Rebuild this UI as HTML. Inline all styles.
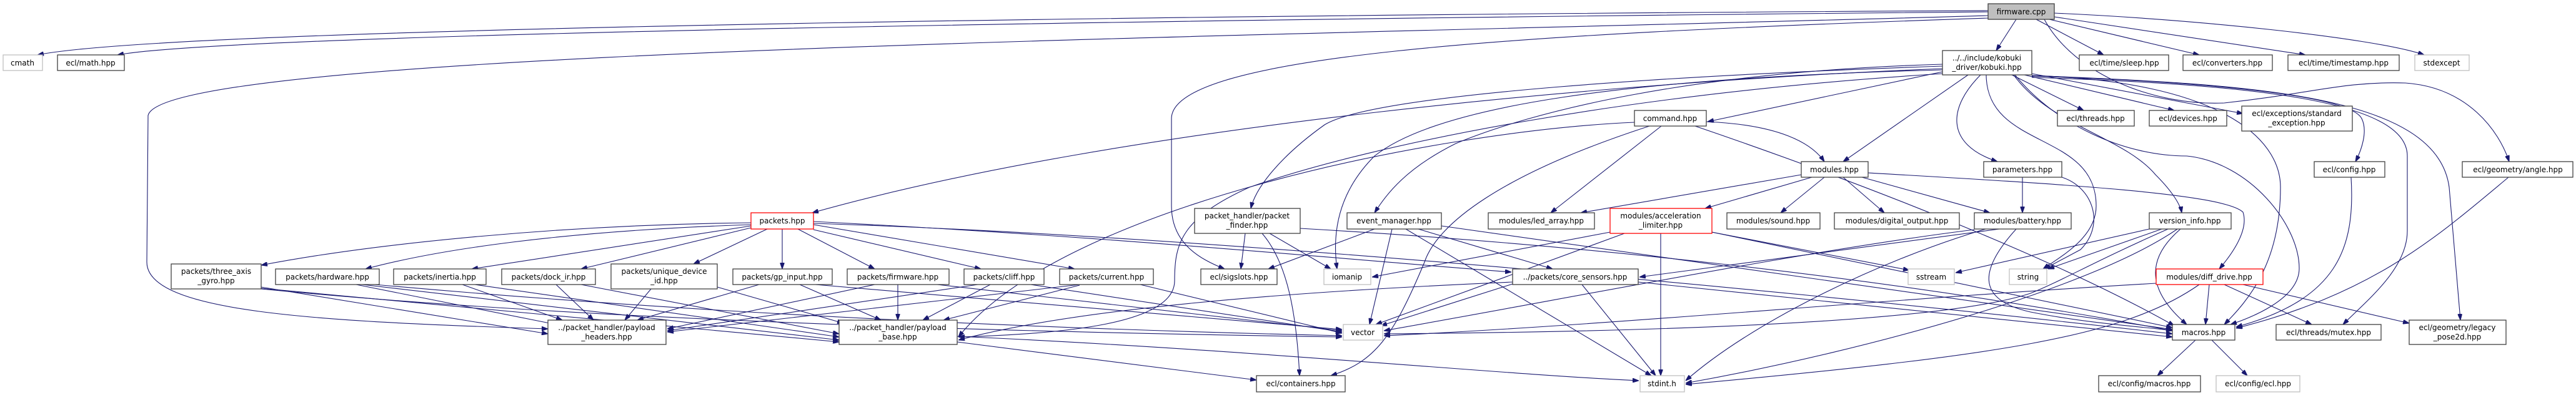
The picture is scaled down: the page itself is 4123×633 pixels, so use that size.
<!DOCTYPE html>
<html><head><meta charset="utf-8"><style>
html,body{margin:0;padding:0;background:#fff;}
svg{display:block;}
text{font-family:"DejaVu Sans","Liberation Sans",sans-serif;font-size:12px;fill:#000;text-anchor:middle;}
.n{fill:#fff;stroke:#404040;stroke-width:1.3;}
.g{fill:#fff;stroke:#bfbfbf;stroke-width:1.3;}
.r{fill:#fff;stroke:#ff0000;stroke-width:1.3;}
.e path{fill:none;stroke:#191970;stroke-width:1.1;}
</style></head><body>
<svg width="4123" height="633" viewBox="0 0 4123 633" xmlns="http://www.w3.org/2000/svg">
<defs><marker id="a" markerWidth="10" markerHeight="7" refX="10" refY="3.5" orient="auto" markerUnits="userSpaceOnUse"><path d="M0,0 L10,3.5 L0,7 z" fill="#191970" stroke="#191970"/></marker></defs>
<g class="e">
<path marker-end="url(#a)" d="M3182 17 C2200 22, 300 40, 60 88"/>
<path marker-end="url(#a)" d="M3182 19 C2200 28, 400 50, 188 88"/>
<path marker-end="url(#a)" d="M3182 25 C2000 60, 260 80, 237 185 L235 420 C235 500, 500 515, 877 527"/>
<path marker-end="url(#a)" d="M3227 31 L3195 81"/>
<path marker-end="url(#a)" d="M3259 31 L3367 88"/>
<path marker-end="url(#a)" d="M3280 31 L3520 88"/>
<path marker-end="url(#a)" d="M3288 27 L3690 88"/>
<path marker-end="url(#a)" d="M3288 21 C3500 30, 3800 60, 3880 88"/>
<path marker-end="url(#a)" d="M3182 29 C2400 55, 1875 90, 1875 190 L1875 330 C1875 390, 1920 415, 1960 431"/>
<path marker-end="url(#a)" d="M3272 31 C3320 120, 3450 170, 3560 165 C3700 150, 3750 130, 3850 133 C3950 140, 4000 210, 4016 259"/>
<path marker-end="url(#a)" d="M3109 110 C2600 130, 1800 200, 1300 341"/>
<path marker-end="url(#a)" d="M3109 106 C2700 120, 2200 150, 2120 200 C2050 250, 2010 300, 2002 334"/>
<path marker-end="url(#a)" d="M3109 103 C2700 115, 2450 180, 2330 230 C2250 270, 2220 310, 2200 341"/>
<path marker-end="url(#a)" d="M3109 115 L2733 195"/>
<path marker-end="url(#a)" d="M3150 120 L2950 259"/>
<path marker-end="url(#a)" d="M3170 120 C3120 170, 3110 230, 3197 259"/>
<path marker-end="url(#a)" d="M3220 120 L3335 177"/>
<path marker-end="url(#a)" d="M3240 120 L3480 177"/>
<path marker-end="url(#a)" d="M3252 118 L3590 182"/>
<path marker-end="url(#a)" d="M3252 122 C3500 130, 3760 150, 3780 190 C3790 210, 3780 240, 3770 259"/>
<path marker-end="url(#a)" d="M3252 121 C3600 135, 3900 150, 3920 300 L3938 513"/>
<path marker-end="url(#a)" d="M3252 124 C3600 135, 3853 160, 3853 250 L3853 370 C3853 430, 3790 480, 3750 520"/>
<path marker-end="url(#a)" d="M3223 120 C3280 200, 3400 220, 3450 280 C3480 310, 3490 330, 3492 341"/>
<path marker-end="url(#a)" d="M3179 120 C3180 240, 3355 210, 3355 330 C3355 380, 3300 410, 3270 431"/>
<path marker-end="url(#a)" d="M3252 121 C3550 130, 3650 220, 3650 300 C3650 420, 3600 480, 3560 520"/>
<path marker-end="url(#a)" d="M3225 120 C3290 200, 3400 250, 3500 250 C3600 260, 3680 360, 3680 430 C3680 480, 3600 510, 3570 520"/>
<path marker-end="url(#a)" d="M3109 112 C2600 125, 2300 170, 2200 250 C2150 300, 2130 360, 2140 431"/>
<path marker-end="url(#a)" d="M2640 202 C2400 280, 2300 360, 2280 420 C2230 540, 2200 580, 2130 602"/>
<path marker-end="url(#a)" d="M3109 118 C2600 150, 2200 230, 2000 300 C1890 350, 1880 390, 1880 450 C1880 520, 1700 535, 1534 540"/>
<path marker-end="url(#a)" d="M2616 196 C2300 210, 1700 330, 1534 540"/>
<path marker-end="url(#a)" d="M2731 195 C2850 200, 2900 230, 2920 259"/>
<path marker-end="url(#a)" d="M2659 202 L2482 341"/>
<path marker-end="url(#a)" d="M2713 202 C3000 300, 3300 420, 3480 522"/>
<path marker-end="url(#a)" d="M2883 280 L2530 341"/>
<path marker-end="url(#a)" d="M2900 284 L2729 334"/>
<path marker-end="url(#a)" d="M2920 284 L2850 341"/>
<path marker-end="url(#a)" d="M2950 284 L3016 341"/>
<path marker-end="url(#a)" d="M2980 284 L3185 341"/>
<path marker-end="url(#a)" d="M2990 277 C3300 295, 3560 310, 3590 340 C3600 370, 3570 410, 3552 431"/>
<path marker-end="url(#a)" d="M2740 372 L3056 433"/>
<path marker-end="url(#a)" d="M1993 374 L1986 431"/>
<path marker-end="url(#a)" d="M2020 374 C2060 420, 2075 500, 2080 602"/>
<path marker-end="url(#a)" d="M2032 374 L2130 431"/>
<path marker-end="url(#a)" d="M2081 366 C2500 390, 3000 440, 3477 530"/>
<path marker-end="url(#a)" d="M2200 367 L2030 431"/>
<path marker-end="url(#a)" d="M2228 367 L2192 520"/>
<path marker-end="url(#a)" d="M2270 367 L2485 431"/>
<path marker-end="url(#a)" d="M2250 367 L2643 602"/>
<path marker-end="url(#a)" d="M2307 362 L3477 528"/>
<path marker-end="url(#a)" d="M2577 372 L2196 444"/>
<path marker-end="url(#a)" d="M2600 374 L2202 520"/>
<path marker-end="url(#a)" d="M2658 374 L2658 602"/>
<path marker-end="url(#a)" d="M2740 372 L3477 525"/>
<path marker-end="url(#a)" d="M3200 367 L2624 444"/>
<path marker-end="url(#a)" d="M3178 367 C3000 420, 2800 520, 2698 610"/>
<path marker-end="url(#a)" d="M3227 367 C3170 430, 3160 480, 3250 500 C3350 520, 3450 525, 3477 530"/>
<path marker-end="url(#a)" d="M3160 368 C2900 400, 2500 480, 2215 530"/>
<path marker-end="url(#a)" d="M3237 284 L3237 341"/>
<path marker-end="url(#a)" d="M3300 284 C3350 300, 3370 360, 3330 400 L3272 431"/>
<path marker-end="url(#a)" d="M3440 367 L3130 437"/>
<path marker-end="url(#a)" d="M3460 367 L3278 431"/>
<path marker-end="url(#a)" d="M3470 367 C3350 420, 3300 450, 3250 470 C3100 520, 2600 532, 2215 535"/>
<path marker-end="url(#a)" d="M3485 367 C3350 460, 3000 560, 2698 614"/>
<path marker-end="url(#a)" d="M3490 367 C3440 410, 3430 460, 3500 520"/>
<path marker-end="url(#a)" d="M3536 456 L3530 520"/>
<path marker-end="url(#a)" d="M3560 456 L3700 520"/>
<path marker-end="url(#a)" d="M3590 456 L3856 518"/>
<path marker-end="url(#a)" d="M3451 454 C3000 480, 2600 520, 2215 538"/>
<path marker-end="url(#a)" d="M3520 456 C3400 540, 3200 570, 2698 616"/>
<path marker-end="url(#a)" d="M2421 452 C2000 470, 1700 500, 1534 545"/>
<path marker-end="url(#a)" d="M2622 452 L3477 540"/>
<path marker-end="url(#a)" d="M2532 456 L2650 602"/>
<path marker-end="url(#a)" d="M2421 455 L2210 522"/>
<path marker-end="url(#a)" d="M3763 284 C3770 400, 3740 480, 3579 524"/>
<path marker-end="url(#a)" d="M4015 284 C3900 380, 3800 470, 3579 526"/>
<path marker-end="url(#a)" d="M3514 545 L3453 602"/>
<path marker-end="url(#a)" d="M3540 545 L3597 602"/>
<path marker-end="url(#a)" d="M1532 548 L2011 609"/>
<path marker-end="url(#a)" d="M1532 539 C2000 560, 2400 600, 2623 610"/>
<path marker-end="url(#a)" d="M1202 357 C900 360, 600 390, 418 425"/>
<path marker-end="url(#a)" d="M1202 360 C900 370, 700 400, 585 431"/>
<path marker-end="url(#a)" d="M1202 362 L755 431"/>
<path marker-end="url(#a)" d="M1202 365 L930 431"/>
<path marker-end="url(#a)" d="M1228 367 L1110 423"/>
<path marker-end="url(#a)" d="M1252 367 L1252 431"/>
<path marker-end="url(#a)" d="M1277 367 L1400 431"/>
<path marker-end="url(#a)" d="M1302 368 L1570 431"/>
<path marker-end="url(#a)" d="M1302 360 L1720 431"/>
<path marker-end="url(#a)" d="M1302 355 C1800 380, 2200 420, 2419 436"/>
<path marker-end="url(#a)" d="M1302 358 C2000 380, 3000 480, 3477 535"/>
<path marker-end="url(#a)" d="M418 460 L877 535"/>
<path marker-end="url(#a)" d="M418 462 L1343 548"/>
<path marker-end="url(#a)" d="M418 463 C1000 520, 1800 535, 2148 540"/>
<path marker-end="url(#a)" d="M570 456 L890 520"/>
<path marker-end="url(#a)" d="M580 456 L1343 545"/>
<path marker-end="url(#a)" d="M600 456 C1200 510, 1800 530, 2148 538"/>
<path marker-end="url(#a)" d="M740 456 L900 513"/>
<path marker-end="url(#a)" d="M760 456 L1343 540"/>
<path marker-end="url(#a)" d="M890 456 L950 513"/>
<path marker-end="url(#a)" d="M930 456 L1343 535"/>
<path marker-end="url(#a)" d="M1042 463 L1000 513"/>
<path marker-end="url(#a)" d="M1148 460 L1350 518"/>
<path marker-end="url(#a)" d="M1215 456 L1020 513"/>
<path marker-end="url(#a)" d="M1280 456 L1410 513"/>
<path marker-end="url(#a)" d="M1305 456 L2148 528"/>
<path marker-end="url(#a)" d="M1400 456 L1068 527"/>
<path marker-end="url(#a)" d="M1437 456 L1437 513"/>
<path marker-end="url(#a)" d="M1500 456 L2148 530"/>
<path marker-end="url(#a)" d="M1565 456 L1068 530"/>
<path marker-end="url(#a)" d="M1585 456 L1477 513"/>
<path marker-end="url(#a)" d="M1650 456 L2148 532"/>
<path marker-end="url(#a)" d="M1728 456 L1068 532"/>
<path marker-end="url(#a)" d="M1728 457 L1510 513"/>
<path marker-end="url(#a)" d="M1825 456 L2148 534"/>
</g>
<g>
<rect x="3182" y="6" width="106" height="25" fill="#bfbfbf" stroke="#404040" stroke-width="1.3"/><text x="3235" y="23">firmware.cpp</text>
<rect class="n" x="3109" y="81" width="143" height="39"/><text x="3180" y="97">../../include/kobuki</text><text x="3180" y="112">_driver/kobuki.hpp</text>
<rect class="g" x="5" y="88" width="63" height="25"/><text x="36" y="105">cmath</text>
<rect class="n" x="92" y="88" width="107" height="25"/><text x="145" y="105">ecl/math.hpp</text>
<rect class="n" x="3328" y="88" width="143" height="25"/><text x="3400" y="105">ecl/time/sleep.hpp</text>
<rect class="n" x="3494" y="88" width="143" height="25"/><text x="3565" y="105">ecl/converters.hpp</text>
<rect class="n" x="3662" y="88" width="178" height="25"/><text x="3751" y="105">ecl/time/timestamp.hpp</text>
<rect class="g" x="3865" y="88" width="87" height="25"/><text x="3908" y="105">stdexcept</text>
<rect class="n" x="2616" y="177" width="115" height="25"/><text x="2673" y="194">command.hpp</text>
<rect class="n" x="3293" y="177" width="123" height="25"/><text x="3354" y="194">ecl/threads.hpp</text>
<rect class="n" x="3440" y="177" width="124" height="25"/><text x="3502" y="194">ecl/devices.hpp</text>
<rect class="n" x="3588" y="170" width="177" height="40"/><text x="3676" y="186">ecl/exceptions/standard</text><text x="3676" y="201">_exception.hpp</text>
<rect class="n" x="2883" y="259" width="107" height="25"/><text x="2936" y="276">modules.hpp</text>
<rect class="n" x="3175" y="259" width="125" height="25"/><text x="3237" y="276">parameters.hpp</text>
<rect class="n" x="3704" y="259" width="113" height="25"/><text x="3760" y="276">ecl/config.hpp</text>
<rect class="n" x="3941" y="259" width="177" height="25"/><text x="4030" y="276">ecl/geometry/angle.hpp</text>
<rect class="r" x="1202" y="341" width="100" height="26"/><text x="1252" y="358">packets.hpp</text>
<rect class="n" x="1912" y="334" width="169" height="40"/><text x="1996" y="350">packet_handler/packet</text><text x="1996" y="365">_finder.hpp</text>
<rect class="n" x="2156" y="341" width="151" height="26"/><text x="2231" y="358">event_manager.hpp</text>
<rect class="n" x="2382" y="341" width="170" height="26"/><text x="2467" y="358">modules/led_array.hpp</text>
<rect class="r" x="2577" y="334" width="163" height="40"/><text x="2658" y="350">modules/acceleration</text><text x="2658" y="365">_limiter.hpp</text>
<rect class="n" x="2764" y="341" width="149" height="26"/><text x="2838" y="358">modules/sound.hpp</text>
<rect class="n" x="2936" y="341" width="200" height="26"/><text x="3036" y="358">modules/digital_output.hpp</text>
<rect class="n" x="3160" y="341" width="155" height="26"/><text x="3237" y="358">modules/battery.hpp</text>
<rect class="n" x="3440" y="341" width="131" height="26"/><text x="3505" y="358">version_info.hpp</text>
<rect class="n" x="274" y="423" width="144" height="40"/><text x="346" y="439">packets/three_axis</text><text x="346" y="454">_gyro.hpp</text>
<rect class="n" x="441" y="431" width="166" height="25"/><text x="524" y="448">packets/hardware.hpp</text>
<rect class="n" x="630" y="431" width="148" height="25"/><text x="704" y="448">packets/inertia.hpp</text>
<rect class="n" x="803" y="431" width="150" height="25"/><text x="878" y="448">packets/dock_ir.hpp</text>
<rect class="n" x="978" y="423" width="170" height="40"/><text x="1063" y="439">packets/unique_device</text><text x="1063" y="454">_id.hpp</text>
<rect class="n" x="1173" y="431" width="159" height="25"/><text x="1252" y="448">packets/gp_input.hpp</text>
<rect class="n" x="1356" y="431" width="163" height="25"/><text x="1437" y="448">packets/firmware.hpp</text>
<rect class="n" x="1543" y="431" width="128" height="25"/><text x="1607" y="448">packets/cliff.hpp</text>
<rect class="n" x="1696" y="431" width="150" height="25"/><text x="1771" y="448">packets/current.hpp</text>
<rect class="n" x="1922" y="431" width="122" height="25"/><text x="1983" y="448">ecl/sigslots.hpp</text>
<rect class="g" x="2119" y="431" width="75" height="25"/><text x="2156" y="448">iomanip</text>
<rect class="n" x="2421" y="431" width="201" height="25"/><text x="2521" y="448">../packets/core_sensors.hpp</text>
<rect class="g" x="3054" y="431" width="74" height="25"/><text x="3091" y="448">sstream</text>
<rect class="g" x="3216" y="431" width="60" height="25"/><text x="3246" y="448">string</text>
<rect class="r" x="3451" y="431" width="171" height="25"/><text x="3536" y="448">modules/diff_drive.hpp</text>
<rect class="n" x="877" y="513" width="189" height="39"/><text x="971" y="529">../packet_handler/payload</text><text x="971" y="544">_headers.hpp</text>
<rect class="n" x="1343" y="513" width="189" height="39"/><text x="1437" y="529">../packet_handler/payload</text><text x="1437" y="544">_base.hpp</text>
<rect class="g" x="2150" y="520" width="63" height="25"/><text x="2181" y="537">vector</text>
<rect class="n" x="3477" y="520" width="100" height="25"/><text x="3527" y="537">macros.hpp</text>
<rect class="n" x="3643" y="520" width="168" height="25"/><text x="3727" y="537">ecl/threads/mutex.hpp</text>
<rect class="n" x="3856" y="513" width="155" height="39"/><text x="3933" y="529">ecl/geometry/legacy</text><text x="3933" y="544">_pose2d.hpp</text>
<rect class="n" x="2011" y="602" width="142" height="26"/><text x="2082" y="619">ecl/containers.hpp</text>
<rect class="g" x="2625" y="602" width="71" height="26"/><text x="2660" y="619">stdint.h</text>
<rect class="n" x="3359" y="602" width="163" height="26"/><text x="3440" y="619">ecl/config/macros.hpp</text>
<rect class="g" x="3547" y="602" width="134" height="26"/><text x="3614" y="619">ecl/config/ecl.hpp</text>
</g>
</svg>
</body></html>
